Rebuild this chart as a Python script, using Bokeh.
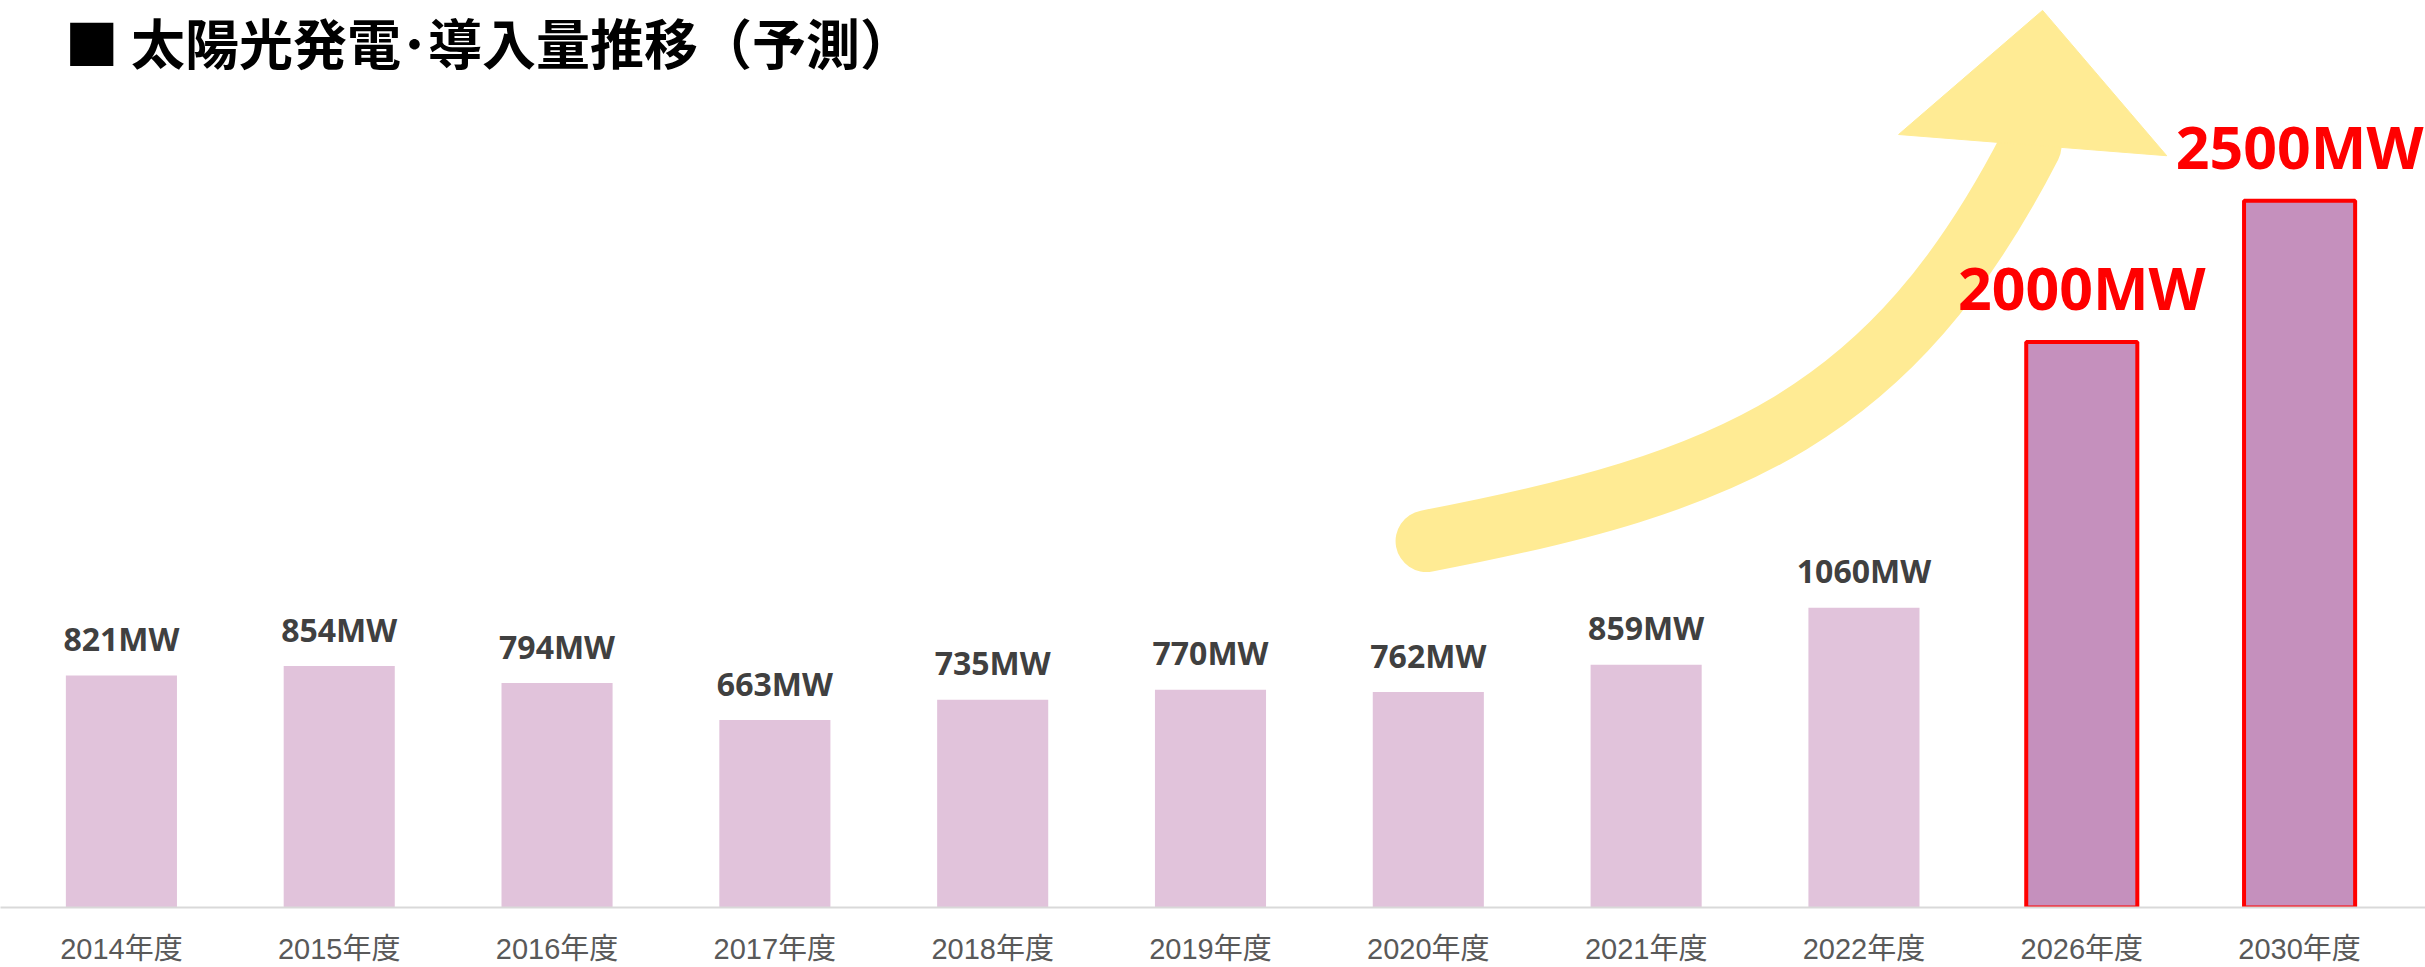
from bokeh.plotting import figure
from bokeh.models import Range1d, FixedTicker, Label, ColumnDataSource
from bokeh.embed import file_html
from bokeh.resources import INLINE
from bokeh.core.properties import value

# ---- data ----
years = ["2014年度", "2015年度", "2016年度", "2017年度", "2018年度", "2019年度",
         "2020年度", "2021年度", "2022年度", "2026年度", "2030年度"]
capacity_mw = [821, 854, 794, 663, 735, 770, 762, 859, 1060, 2000, 2500]
forecast = [False, False, False, False, False, False, False, False, False, True, True]
title_text = "■ 太陽光発電･導入量推移（予測）"

# decorative arrow (data units: x in category slots, y in MW)
arrow_start = (6.492, 1296)
arrow_ctrl0 = (7.888, 1501)
arrow_ctrl1 = (8.627, 1739)
arrow_end = (9.265, 2695)
arrow_head_x = [8.659, 9.320, 9.890]
arrow_head_y = [2734, 3173, 2659]

xs = [i + 0.5 for i in range(len(years))]
labels = [f"{v}MW" for v in capacity_mw]

hist = ColumnDataSource(dict(
    x=[x for x, f in zip(xs, forecast) if not f],
    top=[v for v, f in zip(capacity_mw, forecast) if not f],
    label=[l for l, f in zip(labels, forecast) if not f]))
fc = ColumnDataSource(dict(
    x=[x for x, f in zip(xs, forecast) if f],
    top=[v for v, f in zip(capacity_mw, forecast) if f],
    label=[l for l, f in zip(labels, forecast) if f]))

slot_px = 217.8
p = figure(width=2425, height=967,
           x_range=Range1d(-12 / slot_px, len(years) + 17 / slot_px),
           y_range=Range1d(0, 3208),
           output_backend="svg", toolbar_location=None, y_axis_location=None,
           min_border_left=0, min_border_right=0, min_border_top=0, min_border_bottom=0,
           outline_line_color=None, background_fill_color="white", border_fill_color="white")
p.xgrid.visible = False
p.ygrid.visible = False

# arrow
arrow_color = "#FFEB94"
p.bezier(x0=[arrow_start[0]], y0=[arrow_start[1]], x1=[arrow_end[0]], y1=[arrow_end[1]],
         cx0=[arrow_ctrl0[0]], cy0=[arrow_ctrl0[1]], cx1=[arrow_ctrl1[0]], cy1=[arrow_ctrl1[1]],
         line_color=arrow_color, line_width=62, line_cap="round")
p.patch(arrow_head_x, arrow_head_y, fill_color=arrow_color, line_color=arrow_color, line_width=1)

# bars
p.vbar(x="x", top="top", width=0.51, source=hist, fill_color="#E1C3DB", line_color=None)
p.vbar(x="x", top="top", width=0.51, source=fc, fill_color="#C590BD", line_color="#FF0000",
       line_width=4)

# value labels
p.text(x="x", y="top", text="label", source=hist, text_align="center", text_baseline="alphabetic",
       y_offset=-37, text_font=value("Noto Sans"), text_font_style="bold",
       text_font_size="32px", text_color="#404040")
p.text(x="x", y="top", text="label", source=fc, text_align="center", text_baseline="alphabetic",
       y_offset=-55, text_font=value("Noto Sans"), text_font_style="bold",
       text_font_size="59px", text_color="#FF0000")

# title
p.add_layout(Label(x=0.24, y=3063, text=title_text, text_font="Noto Sans CJK JP",
                   text_font_style="bold", text_font_size="54px", text_baseline="middle",
                   text_color="#000000"))

# x axis
ax = p.xaxis[0]
ax.ticker = FixedTicker(ticks=xs)
ax.major_label_overrides = {x: y for x, y in zip(xs, years)}
ax.axis_line_color = "#D9D9D9"
ax.axis_line_width = 2
ax.major_tick_line_color = None
ax.minor_tick_line_color = None
ax.major_tick_out = 0
ax.major_tick_in = 0
ax.major_label_standoff = 25
ax.major_label_text_font = "Liberation Sans, Noto Sans CJK JP"
ax.major_label_text_font_size = "29px"
ax.major_label_text_color = "#595959"

open("out.html", "w").write(file_html(p, INLINE))
